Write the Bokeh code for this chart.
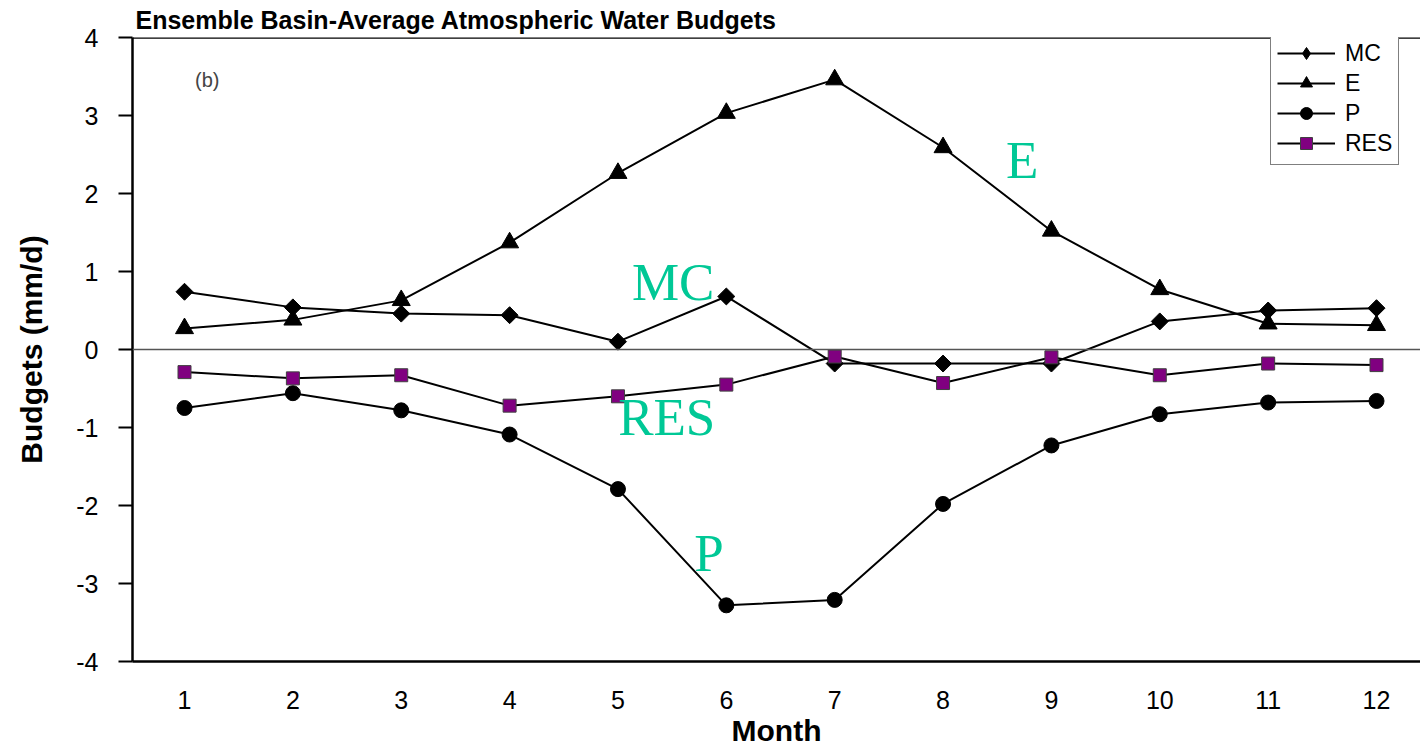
import math
from bokeh.plotting import figure
from bokeh.models import (Span, Label, Legend, LegendItem, FixedTicker, Range1d)
from bokeh.embed import file_html
from bokeh.resources import INLINE

months = [1, 2, 3, 4, 5, 6, 7, 8, 9, 10, 11, 12]
mc = [0.74, 0.54, 0.46, 0.44, 0.10, 0.68, -0.18, -0.18, -0.18, 0.36, 0.50, 0.53]
e = [0.27, 0.38, 0.63, 1.37, 2.26, 3.03, 3.46, 2.59, 1.52, 0.77, 0.33, 0.31]
p_vals = [-0.75, -0.56, -0.78, -1.09, -1.79, -3.28, -3.21, -1.98, -1.23, -0.83, -0.68, -0.66]
res = [-0.29, -0.37, -0.33, -0.72, -0.60, -0.45, -0.09, -0.43, -0.10, -0.33, -0.18, -0.20]
y_ticks = [-4, -3, -2, -1, 0, 1, 2, 3, 4]

title_text = "Ensemble Basin-Average Atmospheric Water Budgets"
teal = "#00C896"

p = figure(width=1420, height=753, output_backend="svg", toolbar_location=None,
           x_range=Range1d(0.52, 12.406), y_range=Range1d(-4, 4),
           min_border_left=132, min_border_right=0, min_border_top=37, min_border_bottom=92)
p.title.text = title_text
p.title.text_font = "Liberation Sans"
p.title.text_font_size = "25px"
p.title.text_font_style = "bold"
p.title.text_color = "black"
p.title.align = "left"
p.title.offset = 3
p.title.standoff = 7
p.outline_line_color = None
p.xgrid.visible = False
p.ygrid.visible = False
p.background_fill_color = "white"
p.border_fill_color = "white"

# axes
p.xaxis.ticker = FixedTicker(ticks=months)
p.xaxis.major_tick_line_color = None
p.xaxis.minor_tick_line_color = None
p.xaxis.major_tick_out = 0
p.xaxis.major_tick_in = 0
p.xaxis.major_label_standoff = 29
p.xaxis.major_label_text_font = "Liberation Sans"
p.xaxis.major_label_text_font_size = "25px"
p.xaxis.major_label_text_color = "black"
p.xaxis.axis_line_width = 2.5
p.xaxis.axis_line_color = "black"
p.xaxis.axis_label = "Month"
p.xaxis.axis_label_text_font = "Liberation Sans"
p.xaxis.axis_label_text_font_size = "30px"
p.xaxis.axis_label_text_font_style = "bold"
p.xaxis.axis_label_text_color = "black"
p.xaxis.axis_label_standoff = 2

p.yaxis.ticker = FixedTicker(ticks=y_ticks)
p.yaxis.major_label_overrides = {v: str(v) for v in y_ticks}
p.yaxis.minor_tick_line_color = None
p.yaxis.major_tick_in = 0
p.yaxis.major_tick_out = 14
p.yaxis.major_tick_line_width = 2
p.yaxis.major_tick_line_color = "black"
p.yaxis.major_label_standoff = 20
p.yaxis.major_label_text_font = "Liberation Sans"
p.yaxis.major_label_text_font_size = "25px"
p.yaxis.major_label_text_color = "black"
p.yaxis.axis_line_width = 2.5
p.yaxis.axis_line_color = "black"
p.yaxis.axis_label = "Budgets (mm/d)"
p.yaxis.axis_label_text_font = "Liberation Sans"
p.yaxis.axis_label_text_font_size = "30px"
p.yaxis.axis_label_text_font_style = "bold"
p.yaxis.axis_label_text_color = "black"
p.yaxis.axis_label_standoff = 25

# top line and zero line
p.add_layout(Span(location=4, dimension="width", line_color="black", line_width=2.5))
p.add_layout(Span(location=0, dimension="width", line_color="#555555", line_width=1.5))

# series
l_mc = p.line(months, mc, line_color="black", line_width=2)
s_mc = p.scatter(months, mc, marker="square", size=12, angle=math.pi / 4,
                 fill_color="black", line_color="black")
# legend-only diamond glyph (a single undrawn NaN point)
s_mc_leg = p.scatter(x=[float("nan")], y=[float("nan")], marker="diamond", size=16,
                     fill_color="black", line_color="black")
l_e = p.line(months, e, line_color="black", line_width=2)
s_e = p.scatter(months, e, marker="triangle", size=18, fill_color="black", line_color="black")
l_p = p.line(months, p_vals, line_color="black", line_width=2)
s_p = p.scatter(months, p_vals, marker="circle", size=15, fill_color="black", line_color="black")
l_r = p.line(months, res, line_color="black", line_width=2)
s_r = p.scatter(months, res, marker="square", size=13, fill_color="#800080", line_color="#404040", line_width=1)

legend = Legend(items=[
    LegendItem(label="MC", renderers=[l_mc, s_mc_leg]),
    LegendItem(label="E", renderers=[l_e, s_e]),
    LegendItem(label="P", renderers=[l_p, s_p]),
    LegendItem(label="RES", renderers=[l_r, s_r]),
], location=(1138, 496))
legend.label_text_font = "Liberation Sans"
legend.label_text_font_size = "23px"
legend.label_text_color = "black"
legend.label_height = 20
legend.glyph_height = 30
legend.glyph_width = 58
legend.spacing = -4
legend.padding = 6
legend.label_standoff = 10
legend.border_line_color = "black"
legend.border_line_width = 1.5
legend.background_fill_alpha = 1
p.add_layout(legend)

# annotations
p.add_layout(Label(x=1.21, y=3.46, text="(b)", text_font="Liberation Sans", text_font_size="20px",
                   text_color="#444444", text_align="center", text_baseline="middle"))
for tx, xx, yy in [("E", 8.73, 2.43), ("MC", 5.51, 0.86), ("RES", 5.45, -0.87), ("P", 5.84, -2.61)]:
    p.add_layout(Label(x=xx, y=yy, text=tx, text_font="Liberation Serif", text_font_size="53px",
                       text_color=teal, text_align="center", text_baseline="middle"))

open("out.html", "w").write(file_html(p, INLINE))
